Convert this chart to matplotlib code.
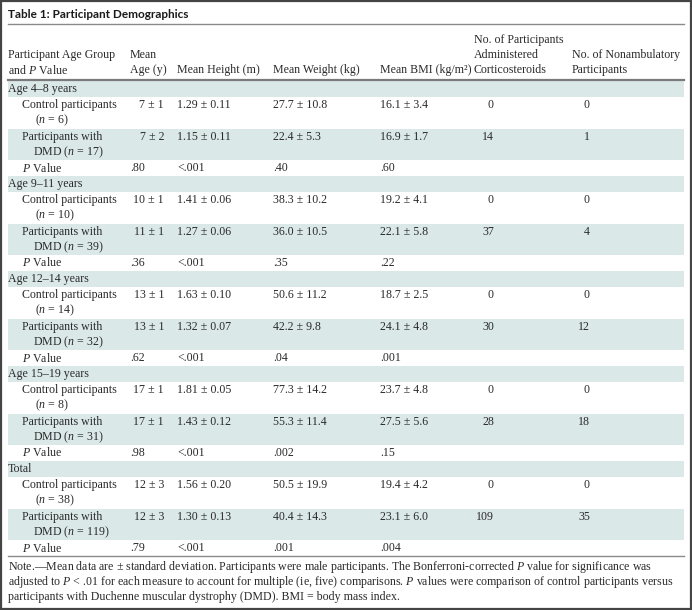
import matplotlib.pyplot as plt
from matplotlib.patches import Rectangle

plt.rcParams['font.family'] = ['Liberation Serif', 'DejaVu Serif']
plt.rcParams['mathtext.fontset'] = 'custom'
plt.rcParams['mathtext.rm'] = 'Liberation Serif'
plt.rcParams['mathtext.it'] = 'Liberation Serif:italic'

# table data
title = "Table 1: Participant Demographics"
groups = ["Age 4\u20138 years", "Age 9\u201311 years", "Age 12\u201314 years", "Age 15\u201319 years", "Total"]
n_control = [6, 10, 14, 8, 38]
n_dmd = [17, 39, 32, 31, 119]
age_control = ["7 \u00b1 1", "10 \u00b1 1", "13 \u00b1 1", "17 \u00b1 1", "12 \u00b1 3"]
age_dmd = ["7 \u00b1 2", "11 \u00b1 1", "13 \u00b1 1", "17 \u00b1 1", "12 \u00b1 3"]
age_p = [".80", ".36", ".62", ".98", ".79"]
height_control = ["1.29 \u00b1 0.11", "1.41 \u00b1 0.06", "1.63 \u00b1 0.10", "1.81 \u00b1 0.05", "1.56 \u00b1 0.20"]
height_dmd = ["1.15 \u00b1 0.11", "1.27 \u00b1 0.06", "1.32 \u00b1 0.07", "1.43 \u00b1 0.12", "1.30 \u00b1 0.13"]
height_p = ["<.001", "<.001", "<.001", "<.001", "<.001"]
weight_control = ["27.7 \u00b1 10.8", "38.3 \u00b1 10.2", "50.6 \u00b1 11.2", "77.3 \u00b1 14.2", "50.5 \u00b1 19.9"]
weight_dmd = ["22.4 \u00b1 5.3", "36.0 \u00b1 10.5", "42.2 \u00b1 9.8", "55.3 \u00b1 11.4", "40.4 \u00b1 14.3"]
weight_p = [".40", ".35", ".04", ".002", ".001"]
bmi_control = ["16.1 \u00b1 3.4", "19.2 \u00b1 4.1", "18.7 \u00b1 2.5", "23.7 \u00b1 4.8", "19.4 \u00b1 4.2"]
bmi_dmd = ["16.9 \u00b1 1.7", "22.1 \u00b1 5.8", "24.1 \u00b1 4.8", "27.5 \u00b1 5.6", "23.1 \u00b1 6.0"]
bmi_p = [".60", ".22", ".001", ".15", ".004"]
steroids_control = [0, 0, 0, 0, 0]
steroids_dmd = [14, 37, 30, 28, 109]
nonamb_control = [0, 0, 0, 0, 0]
nonamb_dmd = [1, 4, 12, 18, 35]

header_lines = [
    ["Participant Age Group", "and $P$ Value"],
    ["Mean", "Age (y)"],
    ["Mean Height (m)"],
    ["Mean Weight (kg)"],
    ["Mean BMI (kg/m\u00b2)"],
    ["No. of Participants", "Administered", "Corticosteroids"],
    ["No. of Nonambulatory", "Participants"],
]
note_lines = [
    "Note.\u2014Mean data are \u00b1 standard deviation. Participants were male participants. The Bonferroni-corrected $P$ value for significance was",
    "adjusted to $P$ < .01 for each measure to account for multiple (ie, five) comparisons. $P$ values were comparison of control participants versus",
    "participants with Duchenne muscular dystrophy (DMD). BMI = body mass index.",
]

txt = '#2a2a2a'
shade = '#dbe8e8'
fs = 8.6

fig = plt.figure(figsize=(6.92, 6.10), dpi=100)
ax = fig.add_axes([0, 0, 1, 1])
ax.set_xlim(0, 692)
ax.set_ylim(610, 0)
ax.axis('off')

# outer frame
ax.add_patch(Rectangle((1, 1), 690, 608, fill=False, edgecolor='#444444', lw=1.6))

left, right = 8, 684
ax.text(left, 14, title, fontsize=8.5, fontweight='bold', family='Lato', color='#1a1a1a', va='center')
ax.plot([left, right], [24, 24], color='#8a8a8a', lw=1)

# column headers
col_x = [8, 130, 177, 273, 380, 474, 572]
line_y = [40, 55, 70]
for x, lines in zip(col_x, header_lines):
    ys = line_y[-len(lines):]
    for y, s in zip(ys, lines):
        ax.text(x, y, s, fontsize=fs, color=txt, va='center')
ax.plot([left, right], [79.5, 79.5], color='#7a7a7a', lw=1.6)

# body
age_right = 164
steroid_right = 494
nonamb_right = 590
top = 81
for i, g in enumerate(groups):
    # group header row (shaded)
    ax.add_patch(Rectangle((left, top), right - left, 16, color=shade, lw=0))
    ax.text(8, top + 8, g, fontsize=fs, color=txt, va='center')
    top += 16
    # control row
    y = top + 8
    ax.text(22, y, "Control participants", fontsize=fs, color=txt, va='center')
    ax.text(35, y + 15, "($n$ = %d)" % n_control[i], fontsize=fs, color=txt, va='center')
    ax.text(age_right, y, age_control[i], fontsize=fs, color=txt, va='center', ha='right')
    ax.text(col_x[2], y, height_control[i], fontsize=fs, color=txt, va='center')
    ax.text(col_x[3], y, weight_control[i], fontsize=fs, color=txt, va='center')
    ax.text(col_x[4], y, bmi_control[i], fontsize=fs, color=txt, va='center')
    ax.text(steroid_right, y, str(steroids_control[i]), fontsize=fs, color=txt, va='center', ha='right')
    ax.text(nonamb_right, y, str(nonamb_control[i]), fontsize=fs, color=txt, va='center', ha='right')
    top += 32
    # DMD row (shaded)
    ax.add_patch(Rectangle((left, top), right - left, 31, color=shade, lw=0))
    y = top + 8
    ax.text(22, y, "Participants with", fontsize=fs, color=txt, va='center')
    ax.text(33, y + 15, "DMD ($n$ = %d)" % n_dmd[i], fontsize=fs, color=txt, va='center')
    ax.text(age_right, y, age_dmd[i], fontsize=fs, color=txt, va='center', ha='right')
    ax.text(col_x[2], y, height_dmd[i], fontsize=fs, color=txt, va='center')
    ax.text(col_x[3], y, weight_dmd[i], fontsize=fs, color=txt, va='center')
    ax.text(col_x[4], y, bmi_dmd[i], fontsize=fs, color=txt, va='center')
    ax.text(steroid_right, y, str(steroids_dmd[i]), fontsize=fs, color=txt, va='center', ha='right')
    ax.text(nonamb_right, y, str(nonamb_dmd[i]), fontsize=fs, color=txt, va='center', ha='right')
    top += 31
    # P value row
    y = top + 8
    ax.text(22, y, "$P$ Value", fontsize=fs, color=txt, va='center')
    ax.text(col_x[1], y, age_p[i], fontsize=fs, color=txt, va='center')
    ax.text(col_x[2], y, height_p[i], fontsize=fs, color=txt, va='center')
    ax.text(col_x[3], y, weight_p[i], fontsize=fs, color=txt, va='center')
    ax.text(col_x[4], y, bmi_p[i], fontsize=fs, color=txt, va='center')
    top += 16

ax.plot([left, right], [top, top], color='#8a8a8a', lw=1)

# footnote
for k, s in enumerate(note_lines):
    ax.text(8, top + 11 + 15 * k, s, fontsize=fs, color=txt, va='center')

fig.savefig('out.png', dpi=100)
